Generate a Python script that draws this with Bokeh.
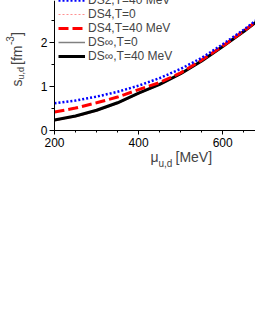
from bokeh.plotting import figure
from bokeh.models import (Range1d, Legend, LegendItem, Label, SingleIntervalTicker)
from bokeh.embed import file_html
from bokeh.resources import INLINE
import math

# chemical potential mu_{u,d} [MeV]
mu = [200, 250, 300, 350, 400, 450, 500, 550, 600, 650, 680]
# s_{u,d} [fm^-3]
ds2_t40 = [0.62, 0.68, 0.77, 0.88, 1.02, 1.19, 1.40, 1.65, 1.96, 2.29, 2.51]
ds4_t0 = [0.22, 0.31, 0.44, 0.61, 0.83, 1.04, 1.28, 1.57, 1.90, 2.24, 2.46]
ds4_t40 = [0.42, 0.51, 0.63, 0.76, 0.93, 1.09, 1.31, 1.60, 1.92, 2.26, 2.48]
dsinf_t0 = [0.23, 0.32, 0.45, 0.62, 0.84, 1.04, 1.28, 1.58, 1.91, 2.25, 2.47]
dsinf_t40 = [0.24, 0.33, 0.46, 0.63, 0.85, 1.05, 1.29, 1.58, 1.91, 2.25, 2.47]

X_MIN, X_MAX = 200, 678
Y_MIN, Y_MAX = 0, 2.955

FONT = "Liberation Sans"
W, H = 255, 200
AX_LEFT, AX_BOTTOM = 54, 130   # axis position in canvas pixels
px_per_x = (W - AX_LEFT) / (X_MAX - X_MIN)
px_per_y = AX_BOTTOM / (Y_MAX - Y_MIN)

# frame covers the whole canvas; axes are pinned at x=200 / y=0
p = figure(width=W, height=H, output_backend="svg", toolbar_location=None,
           x_range=Range1d(X_MIN - AX_LEFT / px_per_x, X_MAX),
           y_range=Range1d(Y_MIN - (H - AX_BOTTOM) / px_per_y, Y_MAX),
           min_border=0)
p.outline_line_color = None
p.xgrid.visible = False
p.ygrid.visible = False

r_dsinf0 = p.line(mu, dsinf_t0, line_color="#808080", line_width=1.5)
r_ds40 = p.line(mu, ds4_t0, line_color="#ff9090", line_width=1.2, line_dash="2 2")
r_dsinf40 = p.line(mu, dsinf_t40, line_color="black", line_width=3)
r_ds440 = p.line(mu, ds4_t40, line_color="#ff0000", line_width=3, line_dash="10 4")
r_ds240 = p.line(mu, ds2_t40, line_color="#0000ff", line_width=2.5, line_dash="2 2")

for ax in (p.xaxis[0], p.yaxis[0]):
    ax.axis_line_color = "black"
    ax.axis_line_width = 1
    ax.major_tick_line_color = "black"
    ax.minor_tick_line_color = "black"
    ax.major_tick_in = 0
    ax.minor_tick_in = 0
    ax.major_label_text_font = FONT
    ax.major_label_text_font_size = "12px"
    ax.major_label_text_color = "black"

p.xaxis[0].fixed_location = Y_MIN
p.xaxis[0].bounds = (X_MIN, X_MAX)
p.xaxis[0].ticker = SingleIntervalTicker(interval=200, num_minor_ticks=4)
p.xaxis[0].major_tick_out = 4
p.xaxis[0].minor_tick_out = 2
p.xaxis[0].major_label_standoff = 3
p.yaxis[0].fixed_location = X_MIN
p.yaxis[0].bounds = (Y_MIN, Y_MAX)
p.yaxis[0].ticker = SingleIntervalTicker(interval=1, num_minor_ticks=2)
p.yaxis[0].major_tick_out = 5
p.yaxis[0].minor_tick_out = 3
p.yaxis[0].major_label_standoff = 2

legend = Legend(items=[
    LegendItem(label="DS2,T=40 MeV", renderers=[r_ds240]),
    LegendItem(label="DS4,T=0", renderers=[r_ds40]),
    LegendItem(label="DS4,T=40 MeV", renderers=[r_ds440]),
    LegendItem(label="DS\u221e,T=0", renderers=[r_dsinf0]),
    LegendItem(label="DS\u221e,T=40 MeV", renderers=[r_dsinf40]),
], location=(AX_LEFT + 4, H - 63))
legend.padding = 0
legend.margin = 0
legend.spacing = 0
legend.label_height = 14
legend.glyph_height = 14
legend.glyph_width = 27
legend.label_standoff = 3
legend.label_text_font = FONT
legend.label_text_font_size = "12px"
legend.label_text_baseline = "middle"
legend.border_line_color = None
legend.background_fill_alpha = 0
p.add_layout(legend)


def lab(x, y, t, size, angle=0.0):
    # screen units: from the frame's (= canvas') bottom-left corner, y upward
    p.add_layout(Label(x=x, y=H - y, x_units="screen", y_units="screen",
                       angle=angle, text=t, text_font=FONT, text_font_size=size,
                       text_baseline="middle", text_align="left"))


# x axis title: mu_{u,d} [MeV]
lab(150, 156.3, "\u03bc", "14px")
lab(158, 162.6, "u,d", "10px")
lab(175, 156.3, "[MeV]", "14px")

# y axis title: s_{u,d} [fm^-3]
a = math.pi / 2
lab(16.5, 86, "s", "14px", a)
lab(20.5, 79, "u,d", "9px", a)
lab(16.5, 64.5, "[fm", "14px", a)
lab(9.5, 44.5, "-3", "10px", a)
lab(16.5, 35.5, "]", "14px", a)

open("out.html", "w").write(file_html(p, INLINE))
